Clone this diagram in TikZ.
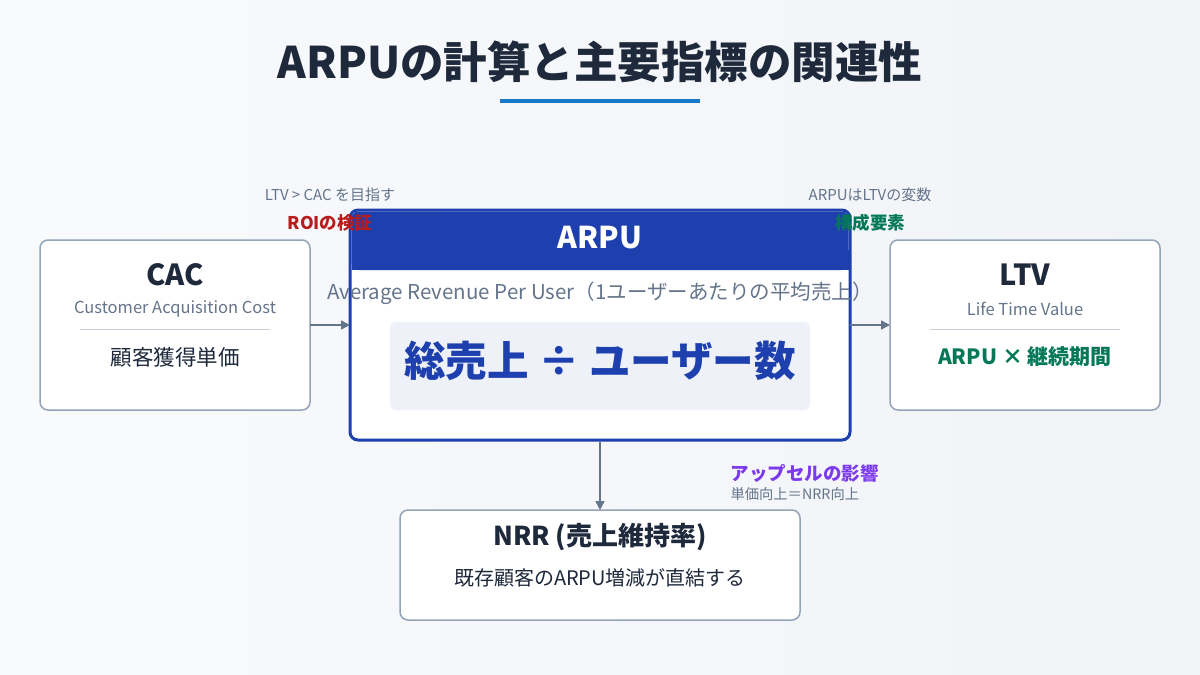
\documentclass[tikz,border=0pt]{standalone}
\usepackage{fontspec}
\setmainfont{Noto Sans CJK JP}
\usepackage{xcolor}
\usetikzlibrary{arrows.meta, positioning}
\definecolor{navy}{HTML}{1E40AF}
\definecolor{ink}{HTML}{1E293B}
\definecolor{slate}{HTML}{64748B}
\definecolor{edge}{HTML}{94A3B8}
\definecolor{roi}{HTML}{B91C1C}
\definecolor{grn}{HTML}{047857}
\definecolor{purp}{HTML}{7C3AED}
\definecolor{pane}{HTML}{EEF2F8}

\begin{document}
\begin{tikzpicture}[
    x=1pt, y=-1pt,
    card/.style={draw=edge, line width=1.5pt, fill=white, rounded corners=8pt},
    head/.style={font=\fontsize{29}{32}\selectfont\bfseries, text=ink},
    sub/.style={font=\fontsize{16.5}{19}\selectfont, text=slate},
    body/.style={font=\fontsize{21.5}{24}\selectfont, text=ink},
    note/.style={font=\fontsize{15}{17}\selectfont, text=slate},
    tag/.style={font=\fontsize{17.5}{20}\selectfont\bfseries},
    arrow/.style={-{Triangle[length=9pt,width=9pt]}, draw=slate, line width=1.5pt}
]
\shade[left color=white!60!pane, right color=pane!80!edge!40] (0,0) rectangle (1200,675);
\useasboundingbox (0,0) rectangle (1200,675);

% title
\node[font=\fontsize{43.5}{48}\selectfont\bfseries, text=ink] (title) at (600,62) {ARPUの計算と主要指標の関連性};
\draw[line width=4pt, draw=navy!70!cyan] (500,101) -- (700,101);

% CAC
\draw[card] (40,240) rectangle (310,410);
\node[head] (cac) at (175,275) {CAC};
\node[sub] (cacsub) at (175,309) {Customer Acquisition Cost};
\draw[draw=edge!50, line width=1pt] (80,329) -- (270,329);
\node[body] (cacval) at (175,357) {顧客獲得単価};
\coordinate (cacR) at (310,325);

% ARPU
\draw[draw=navy, line width=3pt, fill=white, rounded corners=8pt] (350,210) rectangle (850,440);
\fill[navy, rounded corners=7pt] (351.5,211.5) rectangle (848.5,270);
\fill[navy] (351.5,250) rectangle (848.5,270);
\node[font=\fontsize{30}{34}\selectfont\bfseries, text=white] (arpu) at (600,238) {ARPU};
\node[font=\fontsize{20.5}{24}\selectfont, text=slate] (arpusub) at (600,293) {Average Revenue Per User（1ユーザーあたりの平均売上）};
\fill[pane, rounded corners=6pt] (390,322) rectangle (810,410);
\node[font=\fontsize{41.5}{46}\selectfont\bfseries, text=navy] (formula) at (600,361) {総売上 ÷ ユーザー数};
\coordinate (arpuL) at (350,325);
\coordinate (arpuR) at (850,325);
\coordinate (arpuB) at (600,441.5);

% LTV
\draw[card] (890,240) rectangle (1160,410);
\node[head] (ltv) at (1025,275) {LTV};
\node[sub] (ltvsub) at (1025,309) {Life Time Value};
\draw[draw=edge!50, line width=1pt] (930,329) -- (1120,329);
\node[body, text=grn, font=\fontsize{21}{24}\selectfont\bfseries] (ltvval) at (1025,357) {ARPU × 継続期間};
\coordinate (ltvL) at (890,325);

% NRR
\draw[card] (400,510) rectangle (800,620);
\node[head, font=\fontsize{26}{30}\selectfont\bfseries] (nrr) at (600,537) {NRR (売上維持率)};
\node[body, font=\fontsize{20}{24}\selectfont] (nrrval) at (600,578) {既存顧客のARPU増減が直結する};
\coordinate (nrrT) at (600,510);

% links
\draw[arrow] (cacR) -- (arpuL);
\draw[arrow] (arpuR) -- (ltvL);
\draw[arrow] (arpuB) -- (nrrT);

% notes
\node[note] (goal) at (330,195) {LTV > CAC を目指す};
\node[tag, text=roi] (roi) at (330,223) {ROIの検証};
\node[note] (var) at (870,195) {ARPUはLTVの変数};
\node[tag, text=grn] (part) at (870,223) {構成要素};
\node[tag, text=purp, anchor=west, font=\fontsize{18.5}{20}\selectfont\bfseries] (up) at (727,473) {アップセルの影響};
\node[note, font=\fontsize{14.3}{16}\selectfont, anchor=west] (upnote) at (727,494) {単価向上＝NRR向上};
\end{tikzpicture}
\end{document}
